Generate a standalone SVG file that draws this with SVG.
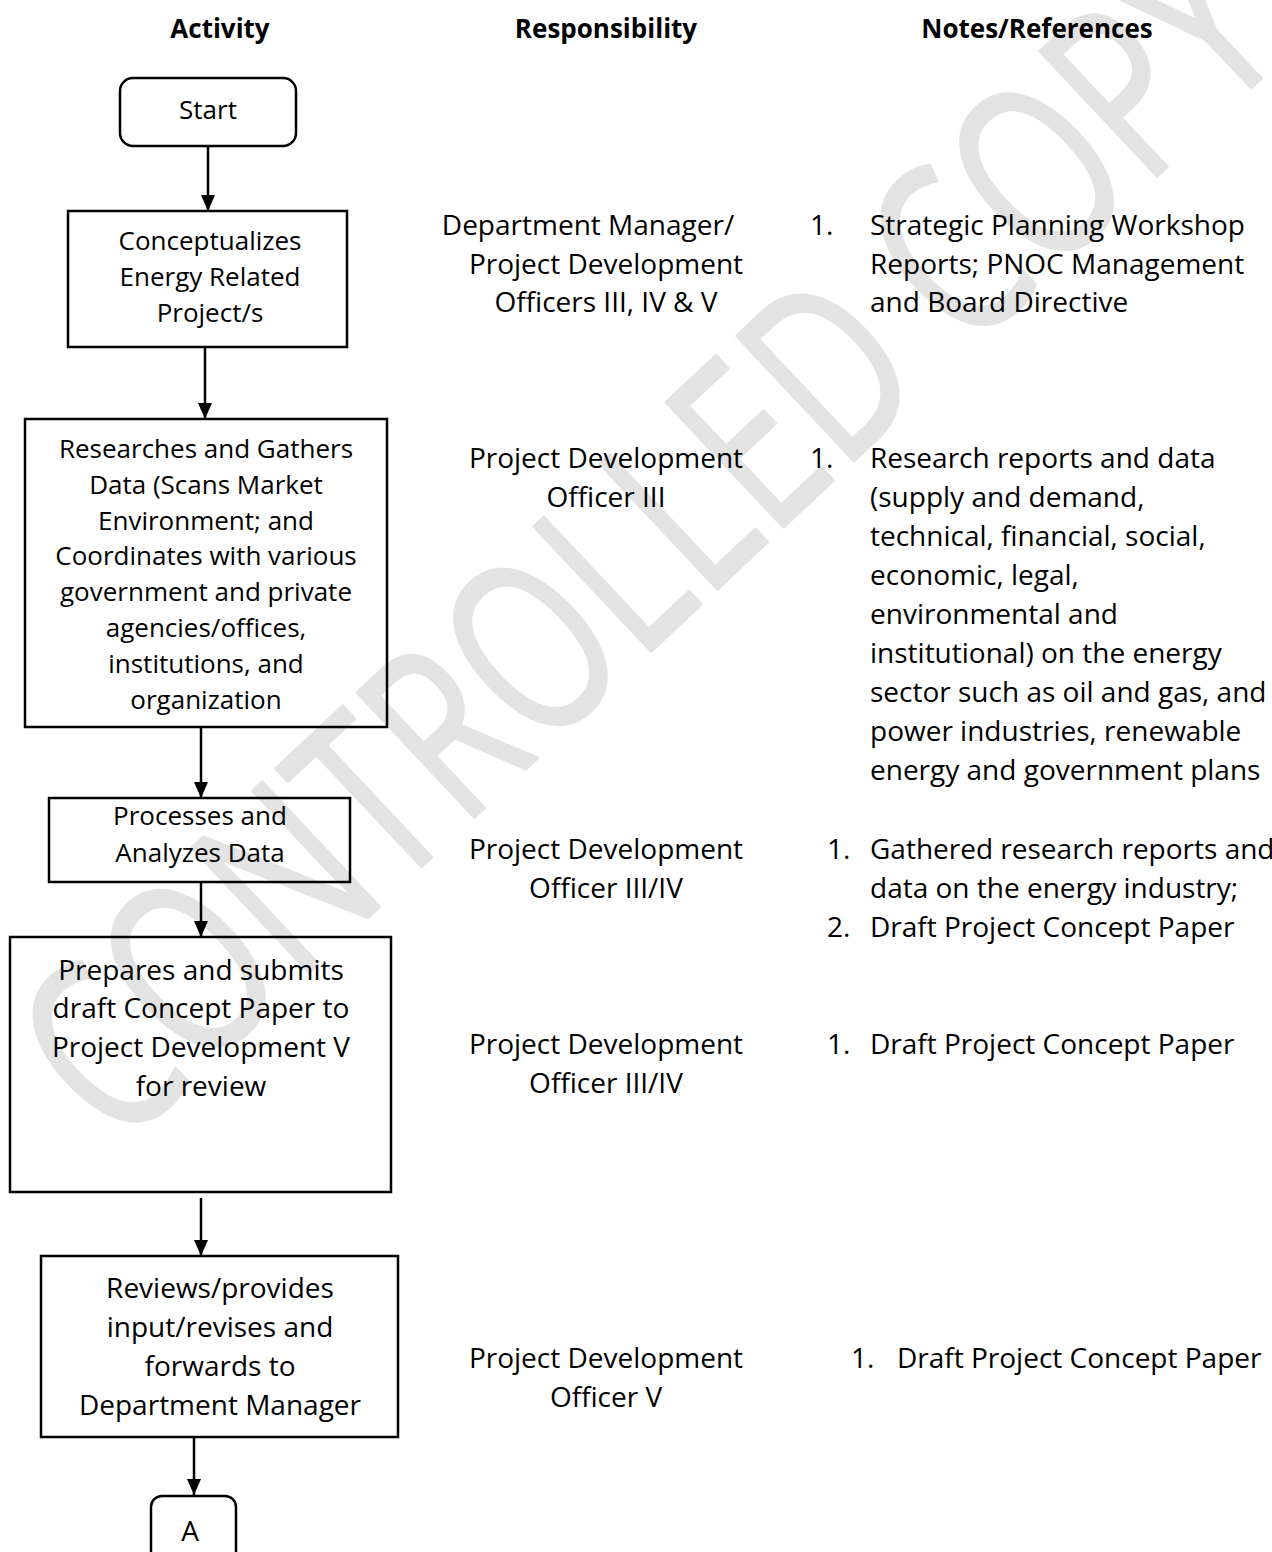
<svg xmlns="http://www.w3.org/2000/svg" width="1272" height="1552" viewBox="0 0 1272 1552">
<style>
text{font-family:"Open Sans","Noto Sans","Liberation Sans",sans-serif;fill:#000}
.h{font-weight:bold;font-size:26px;text-anchor:middle}
.n{font-size:26px;text-anchor:middle}
.m{font-size:28px;text-anchor:middle}
.t{font-size:28px}
.box{fill:none;stroke:#000;stroke-width:2.5}
.c{stroke:#000;stroke-width:2.5;fill:none}
.wm{font-size:240px;fill:#e3e3e3;stroke:#e3e3e3;stroke-width:3;stroke-linejoin:round}
</style>
<defs>
<marker id="ah" viewBox="0 0 16 14" refX="16" refY="7" markerWidth="16" markerHeight="14" markerUnits="userSpaceOnUse" orient="auto"><path d="M0,0 L16,7 L0,14 z" fill="#000"/></marker>
</defs>
<rect width="1272" height="1552" fill="#fff"/>
<g id="watermark">
<text class="wm" transform="translate(118,1152) rotate(-43.2)" x="0" y="0" textLength="1610" lengthAdjust="spacingAndGlyphs">CONTROLLED COPY</text>
</g>
<g id="headers">
<text class="h" x="220" y="38">Activity</text>
<text class="h" x="606" y="38">Responsibility</text>
<text class="h" x="1037" y="38">Notes/References</text>
</g>
<g id="connectors">
<line class="c" x1="208" y1="146" x2="208" y2="211" marker-end="url(#ah)"/>
<line class="c" x1="205" y1="347" x2="205" y2="419" marker-end="url(#ah)"/>
<line class="c" x1="201" y1="727" x2="201" y2="798" marker-end="url(#ah)"/>
<line class="c" x1="201" y1="882" x2="201" y2="937" marker-end="url(#ah)"/>
<line class="c" x1="201" y1="1198" x2="201" y2="1256" marker-end="url(#ah)"/>
<line class="c" x1="194" y1="1437" x2="194" y2="1495" marker-end="url(#ah)"/>
</g>
<g id="start">
<rect class="box" x="120" y="78" width="176" height="68" rx="13"/>
<text class="n" x="208" y="119">Start</text>
</g>
<g id="conceptualizes">
<rect class="box" x="68" y="211" width="279" height="136"/>
<text class="n" x="210" y="250">Conceptualizes</text>
<text class="n" x="210" y="286">Energy Related</text>
<text class="n" x="210" y="322">Project/s</text>
</g>
<g id="researches">
<rect class="box" x="25" y="419" width="362" height="308"/>
<text class="n" x="206" y="458">Researches and Gathers</text>
<text class="n" x="206" y="494">Data (Scans Market</text>
<text class="n" x="206" y="530">Environment; and</text>
<text class="n" x="206" y="565">Coordinates with various</text>
<text class="n" x="206" y="601">government and private</text>
<text class="n" x="206" y="637">agencies/offices,</text>
<text class="n" x="206" y="673">institutions, and</text>
<text class="n" x="206" y="709">organization</text>
</g>
<g id="processes">
<rect class="box" x="49" y="798" width="301" height="84"/>
<text class="n" x="200" y="825">Processes and</text>
<text class="n" x="200" y="862">Analyzes Data</text>
</g>
<g id="prepares">
<rect class="box" x="10" y="937" width="381" height="255"/>
<text class="m" x="201" y="980">Prepares and submits</text>
<text class="m" x="201" y="1018">draft Concept Paper to</text>
<text class="m" x="201" y="1057">Project Development V</text>
<text class="m" x="201" y="1096">for review</text>
</g>
<g id="reviews">
<rect class="box" x="41" y="1256" width="357" height="181"/>
<text class="m" x="220" y="1298">Reviews/provides</text>
<text class="m" x="220" y="1337">input/revises and</text>
<text class="m" x="220" y="1376">forwards to</text>
<text class="m" x="220" y="1415">Department Manager</text>
</g>
<g id="connector-a">
<rect class="box" x="151" y="1496" width="85" height="70" rx="11"/>
<text class="m" x="190" y="1541">A</text>
</g>
<g id="responsibility">
<text class="m" x="588" y="235">Department Manager/</text>
<text class="m" x="606" y="274">Project Development</text>
<text class="m" x="606" y="312">Officers III, IV &amp; V</text>
<text class="m" x="606" y="468">Project Development</text>
<text class="m" x="606" y="507">Officer III</text>
<text class="m" x="606" y="859">Project Development</text>
<text class="m" x="606" y="898">Officer III/IV</text>
<text class="m" x="606" y="1054">Project Development</text>
<text class="m" x="606" y="1093">Officer III/IV</text>
<text class="m" x="606" y="1368">Project Development</text>
<text class="m" x="606" y="1407">Officer V</text>
</g>
<g id="notes">
<text class="t" x="810" y="235">1.</text>
<text class="t" x="870" y="235">Strategic Planning Workshop</text>
<text class="t" x="870" y="274">Reports; PNOC Management</text>
<text class="t" x="870" y="312">and Board Directive</text>
<text class="t" x="810" y="468">1.</text>
<text class="t" x="870" y="468">Research reports and data</text>
<text class="t" x="870" y="507">(supply and demand,</text>
<text class="t" x="870" y="546">technical, financial, social,</text>
<text class="t" x="870" y="585">economic, legal,</text>
<text class="t" x="870" y="624">environmental and</text>
<text class="t" x="870" y="663">institutional) on the energy</text>
<text class="t" x="870" y="702">sector such as oil and gas, and</text>
<text class="t" x="870" y="741">power industries, renewable</text>
<text class="t" x="870" y="780">energy and government plans</text>
<text class="t" x="827" y="859">1.</text>
<text class="t" x="870" y="859">Gathered research reports and</text>
<text class="t" x="870" y="898">data on the energy industry;</text>
<text class="t" x="827" y="937">2.</text>
<text class="t" x="870" y="937">Draft Project Concept Paper</text>
<text class="t" x="827" y="1054">1.</text>
<text class="t" x="870" y="1054">Draft Project Concept Paper</text>
<text class="t" x="851" y="1368">1.</text>
<text class="t" x="897" y="1368">Draft Project Concept Paper</text>
</g>
</svg>
